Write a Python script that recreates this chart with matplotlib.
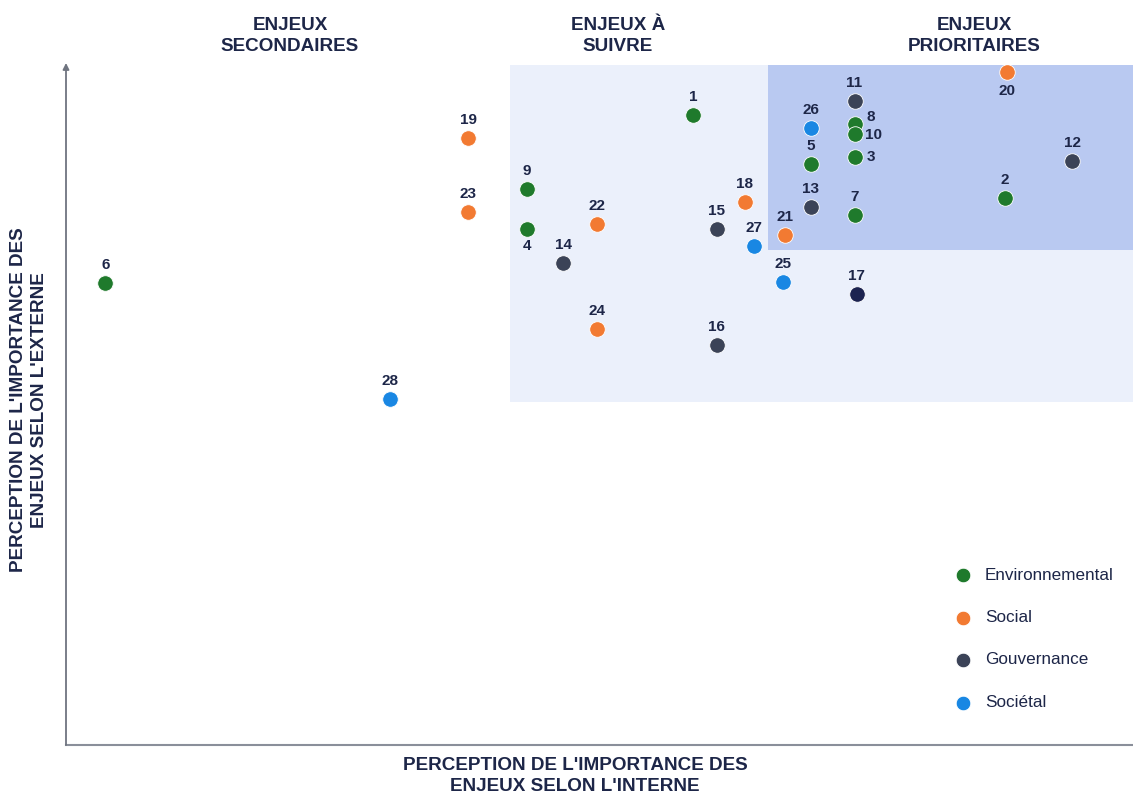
import matplotlib.pyplot as plt
from matplotlib.patches import Rectangle

plt.rcParams['font.family'] = ['Liberation Sans', 'DejaVu Sans']

# Enjeux : numéro, importance interne (x), importance externe (y), catégorie
ids = list(range(1, 29))
interne = [58.8, 88.0, 73.9, 43.2, 69.8, 3.7, 73.9, 73.9, 43.2, 73.9,
           73.9, 94.3, 69.8, 46.6, 61.0, 61.0, 74.1, 63.6, 37.7, 88.2,
           67.4, 49.8, 37.7, 49.8, 67.2, 69.8, 64.5, 30.4]
externe = [92.6, 80.4, 86.5, 75.9, 85.4, 67.9, 77.9, 91.3, 81.8, 89.9,
           94.7, 85.9, 79.1, 70.9, 75.9, 58.8, 66.3, 79.9, 89.3, 99.0,
           75.0, 76.6, 78.4, 61.2, 68.1, 90.7, 73.4, 50.9]
categorie = ['Environnemental', 'Environnemental', 'Environnemental', 'Environnemental',
             'Environnemental', 'Environnemental', 'Environnemental', 'Environnemental',
             'Environnemental', 'Environnemental', 'Gouvernance', 'Gouvernance',
             'Gouvernance', 'Gouvernance', 'Gouvernance', 'Gouvernance', 'Gouvernance',
             'Social', 'Social', 'Social', 'Social', 'Social', 'Social', 'Social',
             'Sociétal', 'Sociétal', 'Sociétal', 'Sociétal']
categories = ['Environnemental', 'Social', 'Gouvernance', 'Sociétal']

couleurs = {'Environnemental': '#1f7a2c', 'Social': '#f27a32',
            'Gouvernance': '#3b4357', 'Sociétal': '#1987e3'}
navy = '#1d2648'

# position des étiquettes (décalage en points)
decalage = {4: (0, -12), 20: (0, -14), 8: (12, 5), 10: (14, -1), 3: (12, 0)}

fig = plt.figure(figsize=(11.33, 7.96), dpi=100)
ax = fig.add_axes([66 / 1133, 51 / 796, 1067 / 1133, 680 / 796])
ax.set_xlim(0, 100)
ax.set_ylim(0, 100)
ax.axis('off')

# zones
ax.add_patch(Rectangle((41.6, 50.4), 58.4, 49.6, color='#ebf0fb', zorder=0, lw=0))
ax.add_patch(Rectangle((65.8, 72.8), 34.2, 27.2, color='#b9c9f1', zorder=0.5, lw=0))

# axes fléchés
ax.annotate('', xy=(0, 100.3), xytext=(0, 0), annotation_clip=False,
            arrowprops=dict(arrowstyle='-|>', color='#6f7480', lw=1.3,
                            mutation_scale=9, shrinkA=0, shrinkB=0))
ax.plot([0, 100], [0, 0], color='#8a8f9a', lw=1.5, clip_on=False)

for i, x, y, c in zip(ids, interne, externe, categorie):
    col = couleurs[c]
    if i == 17:
        col = '#1c2350'
    ax.scatter(x, y, s=125, color=col, edgecolor='white', linewidth=0.6, zorder=3)
    dx, dy = decalage.get(i, (0, 13))
    ax.annotate(str(i), (x, y), xytext=(dx, dy), textcoords='offset points',
                ha='center', va='center', fontsize=11, fontweight='bold',
                color=navy, zorder=4)

# légende
for k, c in enumerate(categories):
    ly = 0.25 - k * 0.0625
    ax.scatter(0.841, ly, s=110, color=couleurs[c], edgecolor='white',
               linewidth=0.6, transform=ax.transAxes, clip_on=False, zorder=3)
    ax.text(0.861, ly, c, transform=ax.transAxes, ha='left', va='center',
            fontsize=12.3, color=navy)

# titres des zones
titres = ['ENJEUX\nSECONDAIRES', 'ENJEUX À\nSUIVRE', 'ENJEUX\nPRIORITAIRES']
pos_titres = [290, 618, 974]
for t, px in zip(titres, pos_titres):
    fig.text(px / 1133, 1 - 36 / 796, t, ha='center', va='center', fontsize=13.6,
             fontweight='bold', color=navy, linespacing=1.28)

fig.text(575 / 1133, 1 - 776 / 796,
         "PERCEPTION DE L'IMPORTANCE DES\nENJEUX SELON L'INTERNE",
         ha='center', va='center', fontsize=13.6, fontweight='bold', color=navy,
         linespacing=1.28)
fig.text(29 / 1133, 1 - 400 / 796,
         "PERCEPTION DE L'IMPORTANCE DES\nENJEUX SELON L'EXTERNE",
         ha='center', va='center', rotation=90, fontsize=13.6, fontweight='bold',
         color=navy, linespacing=1.28)

fig.savefig('out.png', dpi=100)
